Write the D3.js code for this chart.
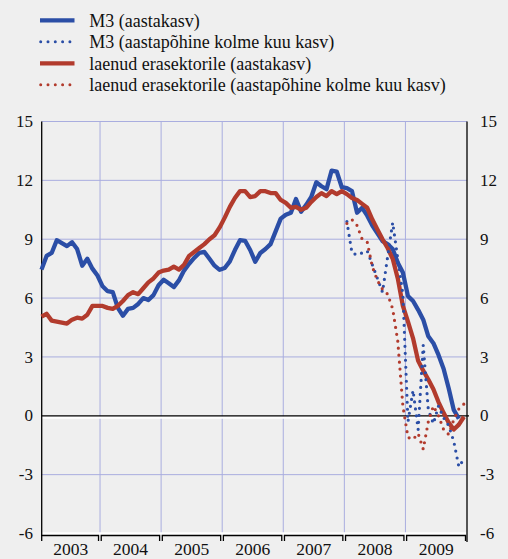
<!DOCTYPE html>
<html><head><meta charset="utf-8">
<script src="https://cdn.jsdelivr.net/npm/d3@7"></script>
<style>
html,body{margin:0;padding:0;background:#efefef;}
svg{display:block;}
</style></head><body>
<svg id="chart" width="508" height="559"></svg>
<script>
// ---------- data ----------
const years = ["2003","2004","2005","2006","2007","2008","2009"];
const yTicks = [-6,-3,0,3,6,9,12,15];
const seriesNames = [
  "M3 (aastakasv)",
  "M3 (aastapõhine kolme kuu kasv)",
  "laenud erasektorile (aastakasv)",
  "laenud erasektorile (aastapõhine kolme kuu kasv)"
];
// monthly, starting Jan 2003
const m3Annual = [
  7.45, 8.15, 8.3, 8.95, 8.8, 8.65, 8.85, 8.5, 7.65, 8.0, 7.5, 7.15,
  6.6, 6.35, 6.3, 5.5, 5.1, 5.45, 5.5, 5.7, 6.0, 5.9, 6.15, 6.65,
  6.93, 6.75, 6.56, 6.9, 7.4, 7.75, 8.05, 8.3, 8.35, 8.0, 7.65, 7.44,
  7.53, 7.87, 8.45, 8.95, 8.92, 8.45, 7.85, 8.3, 8.5, 8.75, 9.4, 10.05,
  10.25, 10.35, 11.05, 10.4, 10.75, 11.15, 11.9, 11.7, 11.55, 12.5, 12.45, 11.65,
  11.6, 11.45, 10.35, 10.6, 10.2, 9.7, 9.3, 8.9, 8.75, 8.5, 7.8, 7.3,
  6.1, 5.85, 5.4, 4.9, 4.05, 3.7, 3.1, 2.4, 1.4, 0.3, -0.15
];
const loansAnnual = [
  5.05, 5.2, 4.85, 4.8, 4.75, 4.7, 4.9, 5.0, 4.95, 5.15, 5.6, 5.6,
  5.6, 5.5, 5.45, 5.6, 5.85, 6.15, 6.3, 6.2, 6.5, 6.8, 7.0, 7.3,
  7.4, 7.45, 7.6, 7.45, 7.7, 8.15, 8.35, 8.55, 8.75, 9.0, 9.2, 9.6,
  10.1, 10.65, 11.1, 11.45, 11.45, 11.15, 11.2, 11.45, 11.45, 11.35, 11.35, 11.0,
  10.85, 10.6, 10.65, 10.5, 10.6, 10.9, 11.15, 11.35, 11.2, 11.45, 11.3, 11.45,
  11.3, 11.1, 11.0, 10.8, 10.6, 10.0, 9.5, 9.0, 8.55, 8.0, 7.0, 5.6,
  4.8, 3.95, 2.8, 2.3, 1.85, 1.35, 0.7, 0.15, -0.35, -0.7, -0.45, -0.05
];
// monthly, starting Jan 2008
const m3ThreeMonth = [
  9.9, 8.3, 8.2, 8.3, 8.4, 7.7, 7.0, 6.3, 8.1, 9.85, 8.0, 6.2,
  -0.3, 1.3, -0.7, 3.6, 0.3, -0.4, 0.5, -0.1, -0.5, -1.3, -2.6, -2.2
];
const loansThreeMonth = [
  9.8, 10.0, 9.7, 9.0, 8.85, 7.6, 6.9, 6.45, 6.2, 5.45, 3.8, 0.5,
  -1.1, -1.2, -0.9, -1.7, -0.3, 0.5, 0.0, -0.7, -0.95, -0.2, 0.35, 0.6
];
const startAnnual = 0, startThree = 60;

// ---------- style ----------
const blue = "#2b4ea6", red = "#b23b2d", gridCol = "#a9addf", txt = "#111";
const FONT = "Liberation Serif";

const svg = d3.select("#chart");
const x = d3.scaleLinear().domain([0, 83.5]).range([41.5, 466.5]);
const y = d3.scaleLinear().domain([-6, 15]).range([533.5, 121.5]);
const xL = x.range()[0] + 0.2, xR = x.range()[1] + 0.5;

// grid
const g = svg.append("g");
g.selectAll("line.hg").data(yTicks.filter(v => v !== 0 && v !== -6)).join("line")
  .attr("x1", xL).attr("x2", xR).attr("y1", d => y(d)).attr("y2", d => y(d))
  .attr("stroke", gridCol).attr("stroke-width", 1);
const yearBounds = d3.range(1, years.length).map(k => x(12 * k - 0.5));
g.selectAll("line.vg").data(yearBounds).join("line")
  .attr("x1", d => d).attr("x2", d => d).attr("y1", y(15)).attr("y2", y(-6))
  .attr("stroke", gridCol).attr("stroke-width", 1);

// bottom white line, zero line
g.append("line").attr("x1", xL).attr("x2", xR).attr("y1", y(-6)).attr("y2", y(-6))
  .attr("stroke", "#fff").attr("stroke-width", 2.5);
g.append("line").attr("x1", xL).attr("x2", xR).attr("y1", y(0) + 1.8).attr("y2", y(0) + 1.8)
  .attr("stroke", "#fff").attr("stroke-width", 2.5);
g.append("line").attr("x1", xL).attr("x2", xR + 2).attr("y1", y(0)).attr("y2", y(0))
  .attr("stroke", "#000").attr("stroke-width", 1.3);

// axes lines
g.append("line").attr("x1", xL).attr("x2", xL).attr("y1", y(15)).attr("y2", 536)
  .attr("stroke", "#000").attr("stroke-width", 1.3);
g.append("line").attr("x1", xR).attr("x2", xR).attr("y1", y(15)).attr("y2", 542)
  .attr("stroke", "#000").attr("stroke-width", 1.3);

// tick labels
const addText = (sel, size) => sel.attr("font-family", FONT).attr("fill", txt).attr("font-size", size);
addText(g.selectAll("text.yl").data(yTicks).join("text")
  .attr("x", 33).attr("y", d => y(d)).attr("dy", "0.33em")
  .attr("text-anchor", "end").text(d => d), 17);
addText(g.selectAll("text.yr").data(yTicks).join("text")
  .attr("x", 480).attr("y", d => y(d)).attr("dy", "0.33em")
  .attr("text-anchor", "start").text(d => d), 17);

// year brackets and labels
const edges = [xL].concat(yearBounds).concat([xR]);
years.forEach((yr, i) => {
  const a = edges[i] + (i === 0 ? 0 : 1.2), b = edges[i + 1] - 1.5;
  g.append("path").attr("d", `M${a},541V535.5H${b}V541`)
    .attr("fill", "none").attr("stroke", "#000").attr("stroke-width", 1.3);
  addText(g.append("text").attr("x", (edges[i] + edges[i + 1]) / 2).attr("y", 555)
    .attr("text-anchor", "middle").text(yr), 17.5);
});

// lines
const lineGen = start => d3.line().x((d, i) => x(start + i)).y(d => y(d));
const plot = svg.append("g");
plot.append("path").datum(m3Annual).attr("d", lineGen(startAnnual))
  .attr("fill", "none").attr("stroke", blue).attr("stroke-width", 4.3).attr("stroke-linejoin", "round");
plot.append("path").datum(loansAnnual).attr("d", lineGen(startAnnual))
  .attr("fill", "none").attr("stroke", red).attr("stroke-width", 4.3).attr("stroke-linejoin", "round");
plot.append("path").datum(m3ThreeMonth).attr("d", lineGen(startThree))
  .attr("fill", "none").attr("stroke", blue).attr("stroke-width", 3.2)
  .attr("stroke-linecap", "round").attr("stroke-dasharray", "0 7");
plot.append("path").datum(loansThreeMonth).attr("d", lineGen(startThree))
  .attr("fill", "none").attr("stroke", red).attr("stroke-width", 3.2)
  .attr("stroke-linecap", "round").attr("stroke-dasharray", "0 7");

// legend
const leg = svg.append("g");
const styles = [
  {c: blue, dot: false}, {c: blue, dot: true}, {c: red, dot: false}, {c: red, dot: true}
];
seriesNames.forEach((name, i) => {
  const ly = 20.3 + i * 21.5;
  const ln = leg.append("line").attr("x1", 40).attr("x2", 74.5).attr("y1", ly).attr("y2", ly)
    .attr("stroke", styles[i].c);
  if (styles[i].dot) ln.attr("x1", 40.7).attr("x2", 71).attr("stroke-width", 3).attr("stroke-linecap", "round").attr("stroke-dasharray", "0 7.3");
  else ln.attr("stroke-width", 4.3);
  addText(leg.append("text").attr("x", 89.3).attr("y", ly + 6.3).text(name), 18);
});
</script>
</body></html>
